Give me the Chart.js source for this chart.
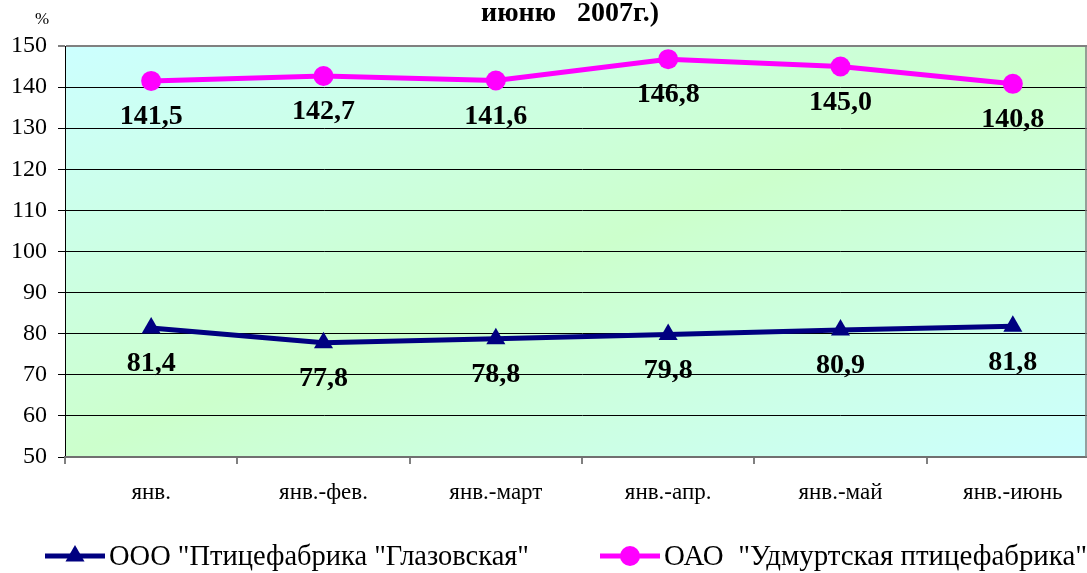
<!DOCTYPE html>
<html><head><meta charset="utf-8">
<script src="https://cdn.jsdelivr.net/npm/chart.js@4"></script>
<style>html,body{margin:0;padding:0;background:#fff;overflow:hidden}#wrap{width:1110px;height:573px}</style>
</head><body><div id="wrap"><canvas id="c" width="1110" height="573"></canvas></div>
<script>
const categories = ["янв.", "янв.-фев.", "янв.-март", "янв.-апр.", "янв.-май", "янв.-июнь"];
const glazovValues = [81.4, 77.8, 78.8, 79.8, 80.9, 81.8];
const udmValues = [141.5, 142.7, 141.6, 146.8, 145.0, 140.8];
const seriesNames = ['ООО "Птицефабрика "Глазовская"', 'ОАО  "Удмуртская птицефабрика"'];
const titleText = "июню   2007г.)";
const unitText = "%";
const yMin = 50, yMax = 150, yStep = 10;

const SERIF = "'Liberation Serif','Times New Roman',serif";

const bgPlugin = {
  id: 'bg',
  beforeDraw(chart) {
    const {ctx, chartArea: a} = chart;
    ctx.save();
    ctx.translate(a.left, a.top);
    ctx.scale(a.right - a.left, a.bottom - a.top);
    const g = ctx.createLinearGradient(0, 0, 1, 1);
    g.addColorStop(0, '#ccffff');
    g.addColorStop(0.5, '#ccffcc');
    g.addColorStop(1, '#ccffff');
    ctx.fillStyle = g;
    ctx.fillRect(0, 0, 1, 1);
    ctx.restore();
  }
};

const labelPlugin = {
  id: 'vals',
  afterDatasetsDraw(chart) {
    const ctx = chart.ctx;
    ctx.save();
    ctx.font = "bold 28px " + SERIF;
    ctx.fillStyle = '#000';
    ctx.textAlign = 'center';
    ctx.textBaseline = 'middle';
    chart.data.datasets.forEach((ds, i) => {
      chart.getDatasetMeta(i).data.forEach((pt, j) => {
        ctx.fillText(ds.data[j].toFixed(1).replace('.', ','), pt.x, pt.y + 36);
      });
    });
    ctx.restore();
  }
};

function drawMarker(ctx, style, x, y, r, color) {
  ctx.fillStyle = color;
  ctx.beginPath();
  if (style === 'circle') {
    ctx.arc(x, y, r, 0, Math.PI * 2);
  } else {
    ctx.moveTo(x, y - r);
    ctx.lineTo(x + r * Math.sqrt(3) / 2, y + r / 2);
    ctx.lineTo(x - r * Math.sqrt(3) / 2, y + r / 2);
    ctx.closePath();
  }
  ctx.fill();
}

function fitText(ctx, text, x, y, targetW) {
  const w = ctx.measureText(text).width;
  ctx.save();
  ctx.translate(x, y);
  ctx.scale(targetW / w, 1);
  ctx.fillText(text, 0, 0);
  ctx.restore();
}

const decoPlugin = {
  id: 'deco',
  afterDraw(chart) {
    const ctx = chart.ctx;
    const a = chart.chartArea;
    ctx.save();
    // title
    ctx.font = "bold 28px " + SERIF;
    ctx.fillStyle = '#000';
    ctx.textAlign = 'center';
    ctx.textBaseline = 'middle';
    ctx.fillText(titleText, 570, 14);
    // unit
    ctx.font = "17px " + SERIF;
    ctx.fillText(unitText, 42, 20);
    // right border
    ctx.strokeStyle = '#808080';
    ctx.lineWidth = 1.5;
    ctx.beginPath();
    ctx.moveTo(1086, a.top);
    ctx.lineTo(1086, a.bottom);
    ctx.stroke();
    // legend
    const ly = 556;
    const items = [{x0: 45, ds: 0, w: 420}, {x0: 600, ds: 1, w: 423}];
    ctx.font = "30px " + SERIF;
    ctx.textAlign = 'left';
    items.forEach(it => {
      const ds = chart.data.datasets[it.ds];
      ctx.strokeStyle = ds.borderColor;
      ctx.lineWidth = 5;
      ctx.beginPath();
      ctx.moveTo(it.x0, ly);
      ctx.lineTo(it.x0 + 60, ly);
      ctx.stroke();
      drawMarker(ctx, ds.pointStyle, it.x0 + 30, ly, ds.pointRadius, ds.borderColor);
      ctx.fillStyle = '#000';
      fitText(ctx, seriesNames[it.ds], it.x0 + 64, ly + 1, it.w);
    });
    ctx.restore();
  }
};

new Chart(document.getElementById('c'), {
  type: 'line',
  data: {
    labels: categories,
    datasets: [
      {label: seriesNames[0], data: glazovValues, borderColor: '#000080', backgroundColor: '#000080',
       borderWidth: 5, pointStyle: 'triangle', pointRadius: 11, pointHoverRadius: 11, pointBorderWidth: 0, tension: 0},
      {label: seriesNames[1], data: udmValues, borderColor: '#ff00ff', backgroundColor: '#ff00ff',
       borderWidth: 5, pointStyle: 'circle', pointRadius: 10, pointHoverRadius: 10, pointBorderWidth: 0, tension: 0}
    ]
  },
  options: {
    responsive: false,
    devicePixelRatio: 1,
    animation: false,
    events: [],
    layout: {padding: {top: 46, right: 2, left: 0, bottom: 0}},
    plugins: {legend: {display: false}, title: {display: false}, tooltip: {enabled: false}},
    scales: {
      y: {
        min: yMin, max: yMax,
        afterFit(s) { s.width = 65; },
        ticks: {stepSize: yStep, color: '#000', font: {family: SERIF, size: 24}, padding: 11},
        grid: {color: c => (c.tick && (c.tick.value === yMax)) ? '#808080' : '#000', lineWidth: c => (c.tick && c.tick.value === yMax) ? 2 : 1, tickLength: 7},
        border: {color: '#000', width: 1}
      },
      x: {
        offset: true,
        afterFit(s) { s.height = 116; },
        ticks: {color: '#000', font: {family: SERIF, size: 23}, padding: 15, maxRotation: 0},
        grid: {offset: true, drawOnChartArea: false, tickLength: 7, color: '#808080', lineWidth: 2},
        border: {color: '#707070', width: 2}
      }
    }
  },
  plugins: [bgPlugin, labelPlugin, decoPlugin]
});
</script>
</body></html>
